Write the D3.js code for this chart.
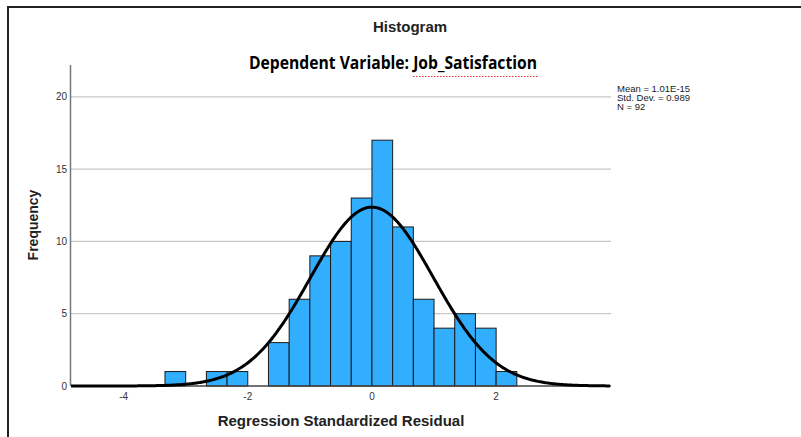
<!DOCTYPE html>
<html>
<head>
<meta charset="utf-8">
<script src="https://cdn.jsdelivr.net/npm/d3@7"></script>
<style>
  body { margin: 0; background: #fff; }
  svg { display: block; }
  .tick-label { font-family: Arial, "Liberation Sans", sans-serif; font-size: 10px; fill: #333; }
</style>
</head>
<body>
<div id="chart"></div>
<script>
// bin edges are thirds of a unit, from -10/3 to 7/3
var binStarts = [-10, -9, -8, -7, -6, -5, -4, -3, -2, -1, 0, 1, 2, 3, 4, 5, 6].map(function(k) { return k / 3; });
var binWidth = 1 / 3;
var counts = [1, 0, 1, 1, 0, 3, 6, 9, 10, 13, 17, 11, 6, 4, 5, 4, 1];

var xTicks = [-4, -2, 0, 2];
var yTicks = [0, 5, 10, 15, 20];

var statMean = 1.01e-15;
var statSd = 0.989;
var statN = 92;
var statLines = ["Mean = 1.01E-15", "Std. Dev. = 0.989", "N = 92"];

var width = 801, height = 437;
var margin = { top: 65, right: 190, bottom: 51, left: 71 };

var svg = d3.select('#chart')
    .append('svg')
    .attr('width', width)
    .attr('height', height);

// outer frame (top + left edge)
svg.append('path')
    .attr('d', 'M8,437 L8,7 L801,7')
    .attr('fill', 'none')
    .attr('stroke', '#222')
    .attr('stroke-width', 2);

var xScale = d3.scaleLinear()
    .domain([-4.847, 3.85])
    .range([margin.left, width - margin.right]);

var yScale = d3.scaleLinear()
    .domain([0, 22.2])
    .range([height - margin.bottom, margin.top]);

// gridlines
svg.selectAll('.grid')
    .data(yTicks.filter(function(d) { return d > 0; }))
    .enter()
    .append('line')
    .attr('class', 'grid')
    .attr('x1', margin.left)
    .attr('x2', width - margin.right)
    .attr('y1', function(d) { return yScale(d); })
    .attr('y2', function(d) { return yScale(d); })
    .attr('stroke', '#c8c8c8')
    .attr('stroke-width', 1.2);

// y tick labels
svg.selectAll('.ylab')
    .data(yTicks)
    .enter()
    .append('text')
    .attr('class', 'tick-label')
    .attr('x', margin.left - 4)
    .attr('y', function(d) { return yScale(d); })
    .attr('dy', '0.35em')
    .attr('text-anchor', 'end')
    .text(function(d) { return d; });

// x tick labels
svg.selectAll('.xlab')
    .data(xTicks)
    .enter()
    .append('text')
    .attr('class', 'tick-label')
    .attr('x', function(d) { return xScale(d); })
    .attr('y', yScale(0) + 14)
    .attr('text-anchor', 'middle')
    .text(function(d) { return d; });

// bars
svg.selectAll('.bar')
    .data(counts.map(function(c, i) { return { x0: binStarts[i], count: c }; })
        .filter(function(d) { return d.count > 0; }))
    .enter()
    .append('rect')
    .attr('class', 'bar')
    .attr('x', function(d) { return xScale(d.x0); })
    .attr('width', function(d) { return xScale(d.x0 + binWidth) - xScale(d.x0); })
    .attr('y', function(d) { return yScale(d.count); })
    .attr('height', function(d) { return yScale(0) - yScale(d.count); })
    .attr('fill', '#31aefe')
    .attr('stroke', '#1a1a1a')
    .attr('stroke-width', 1);

// axes lines
svg.append('line')
    .attr('x1', margin.left - 0.5).attr('x2', margin.left - 0.5)
    .attr('y1', margin.top).attr('y2', yScale(0))
    .attr('stroke', '#777').attr('stroke-width', 1.5);

// normal curve from the reported mean / sd / N
var curveX = d3.range(xScale.domain()[0], xScale.domain()[1] + 0.001, 0.02);
var normal = function(x) {
    var z = (x - statMean) / statSd;
    return statN * binWidth * Math.exp(-0.5 * z * z) / (statSd * Math.sqrt(2 * Math.PI));
};

svg.append('line')
    .attr('x1', margin.left).attr('x2', width - margin.right)
    .attr('y1', yScale(0)).attr('y2', yScale(0))
    .attr('stroke', '#444').attr('stroke-width', 1.5);

svg.append('path')
    .datum(curveX)
    .attr('d', d3.line()
        .x(function(d) { return xScale(d); })
        .y(function(d) { return yScale(normal(d)); }))
    .attr('fill', 'none')
    .attr('stroke', '#000')
    .attr('stroke-width', 3);

// titles
svg.append('text')
    .attr('x', 410).attr('y', 32)
    .attr('text-anchor', 'middle')
    .style('font-family', 'Arial, "Liberation Sans", sans-serif')
    .style('font-size', '15px')
    .style('font-weight', 'bold')
    .attr('fill', '#222')
    .text('Histogram');

svg.append('text')
    .attr('x', 249).attr('y', 69)
    .attr('textLength', 288)
    .attr('lengthAdjust', 'spacingAndGlyphs')
    .style('font-family', '"Open Sans", "Noto Sans", sans-serif')
    .style('font-size', '17px')
    .style('font-weight', 'bold')
    .attr('fill', '#000')
    .text('Dependent Variable: Job_Satisfaction');

// spell-check squiggle under Job_Satisfaction
svg.append('line')
    .attr('x1', 413).attr('x2', 538)
    .attr('y1', 76.5).attr('y2', 76.5)
    .attr('stroke', '#e03030')
    .attr('stroke-width', 1)
    .attr('stroke-dasharray', '1.5,1.5');

// stats box
svg.selectAll('.stat')
    .data(statLines)
    .enter()
    .append('text')
    .attr('x', 617)
    .attr('y', function(d, i) { return 91.5 + i * 9.4; })
    .style('font-family', 'Arial, "Liberation Sans", sans-serif')
    .style('font-size', '9.5px')
    .attr('fill', '#222')
    .text(function(d) { return d; });

// axis titles
svg.append('text')
    .attr('x', 341).attr('y', 426)
    .attr('text-anchor', 'middle')
    .style('font-family', 'Arial, "Liberation Sans", sans-serif')
    .style('font-size', '15px')
    .style('font-weight', 'bold')
    .attr('fill', '#222')
    .text('Regression Standardized Residual');

svg.append('text')
    .attr('transform', 'translate(38,225) rotate(-90)')
    .attr('text-anchor', 'middle')
    .style('font-family', 'Arial, "Liberation Sans", sans-serif')
    .style('font-size', '14px')
    .style('font-weight', 'bold')
    .attr('fill', '#222')
    .text('Frequency');
</script>
</body>
</html>
